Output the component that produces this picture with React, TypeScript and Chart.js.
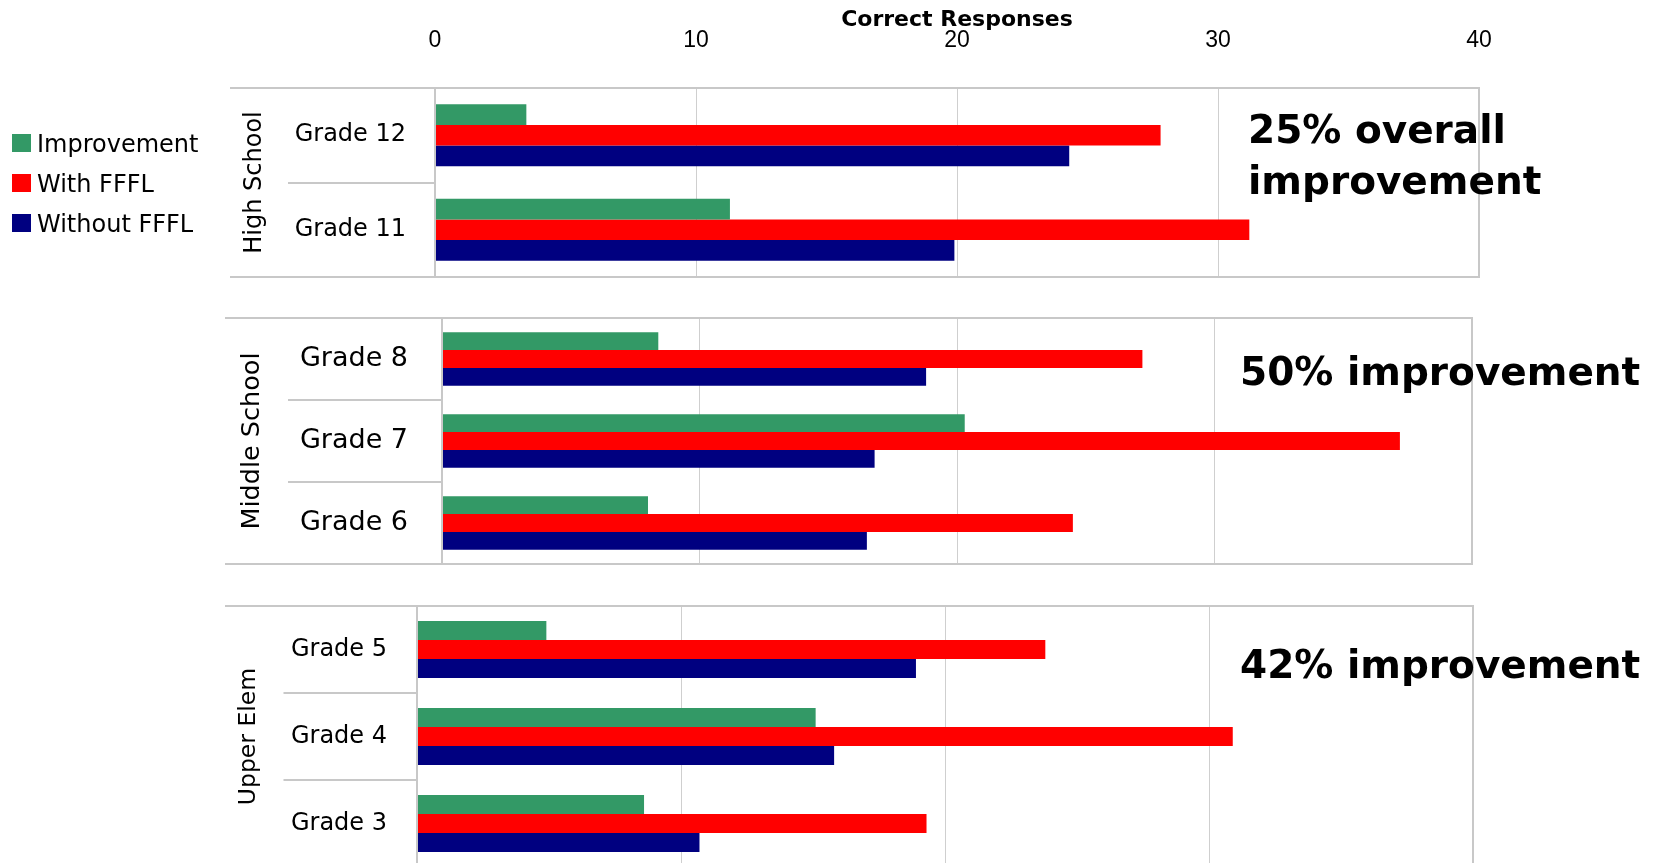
import React, { useEffect, useRef } from 'react';
import { Chart, registerables } from 'chart.js';

Chart.register(...registerables);

// ---------- data ----------
const seriesNames = ['Improvement', 'With FFFL', 'Without FFFL'];
const seriesColors = ['#339966', '#ff0000', '#000080'];

const hsGrades = ['Grade 12', 'Grade 11'];
const hsImprovement = [3.5, 11.3];
const hsWith = [27.8, 31.2];
const hsWithout = [24.3, 19.9];

const msGrades = ['Grade 8', 'Grade 7', 'Grade 6'];
const msImprovement = [8.4, 20.3, 8.0];
const msWith = [27.2, 37.2, 24.5];
const msWithout = [18.8, 16.8, 16.5];

const ueGrades = ['Grade 5', 'Grade 4', 'Grade 3'];
const ueImprovement = [4.9, 15.1, 8.6];
const ueWith = [23.8, 30.9, 19.3];
const ueWithout = [18.9, 15.8, 10.7];

const groupNames = ['High School', 'Middle School', 'Upper Elem'];
const notes = [['25% overall', 'improvement'], ['50% improvement'], ['42% improvement']];
const axisTitle = 'Correct Responses';
const xMin = 0;
const xMax = 40;
const xStep = 10;

const panelData = [
  { labels: hsGrades, values: [hsImprovement, hsWith, hsWithout] },
  { labels: msGrades, values: [msImprovement, msWith, msWithout] },
  { labels: ueGrades, values: [ueImprovement, ueWith, ueWithout] },
];

// ---------- layout ----------
const W = 1667;
const H = 863;
const panels = [
  { top: 0, height: 300, boxLeft: 230, sepLeft: 288, plotLeft: 435, plotRight: 1479, areaTop: 88, areaBottom: 277, labelPad: 29, labelSize: 24, titleSize: 24, titleX: 254.3, noteX: 1248, noteBaselines: [143.3, 194], showTicks: true, legend: true },
  { top: 300, height: 290, boxLeft: 225, sepLeft: 288, plotLeft: 442, plotRight: 1472, areaTop: 18, areaBottom: 264, labelPad: 34, labelSize: 27, titleSize: 25.5, titleX: 252, noteX: 1240, noteBaselines: [85], showTicks: false, legend: false },
  { top: 590, height: 290, boxLeft: 225, sepLeft: 283.5, plotLeft: 417, plotRight: 1473, areaTop: 16, areaBottom: 277, labelPad: 30, labelSize: 24, titleSize: 23.5, titleX: 248.4, noteX: 1240, noteBaselines: [88.3], showTicks: false, legend: false },
];

const FONT = "'DejaVu Sans', sans-serif";
const BOX_COLOR = '#c8c8c8';

function decorPlugin(i: number) {
  const p = panels[i];
  return {
    id: 'decor' + i,
    afterDraw(chart: any) {
      const ctx = chart.ctx;
      const area = chart.chartArea;
      const y = chart.scales.y;
      ctx.save();
      // box top / bottom lines extending over category region
      ctx.strokeStyle = BOX_COLOR;
      ctx.lineWidth = 2;
      ctx.beginPath();
      ctx.moveTo(p.boxLeft, Math.round(area.top));
      ctx.lineTo(area.right + 1, Math.round(area.top));
      ctx.moveTo(p.boxLeft, Math.round(area.bottom));
      ctx.lineTo(area.right + 1, Math.round(area.bottom));
      ctx.stroke();
      // category separators
      const n = chart.data.labels.length;
      ctx.beginPath();
      for (let k = 1; k < n; k++) {
        const yb = Math.round((y.getPixelForValue(k - 1) + y.getPixelForValue(k)) / 2);
        ctx.moveTo(p.sepLeft, yb);
        ctx.lineTo(area.left, yb);
      }
      ctx.stroke();
      // annotation text
      ctx.fillStyle = '#000';
      ctx.font = `bold 39px ${FONT}`;
      ctx.textAlign = 'left';
      ctx.textBaseline = 'alphabetic';
      notes[i].forEach((line, k) => {
        ctx.fillText(line, p.noteX, p.noteBaselines[k]);
      });
      // legend
      if (p.legend) {
        const baselines = [152, 192, 232];
        ctx.font = `24px ${FONT}`;
        chart.data.datasets.forEach((ds: any, k: number) => {
          ctx.fillStyle = ds.backgroundColor;
          ctx.fillRect(12, baselines[k] - 18, 19, 18);
          ctx.fillStyle = '#000';
          ctx.fillText(ds.label, 37, baselines[k]);
        });
      }
      ctx.restore();
    },
  };
}

function makeConfig(i: number): any {
  const p = panels[i];
  const d = panelData[i];
  return {
    type: 'bar',
    data: {
      labels: d.labels,
      datasets: seriesNames.map((name, k) => ({
        label: name,
        data: d.values[k],
        backgroundColor: seriesColors[k],
        borderWidth: 0,
        barPercentage: 1,
        categoryPercentage: 0.655,
      })),
    },
    options: {
      indexAxis: 'y',
      responsive: false,
      animation: false,
      devicePixelRatio: 1,
      layout: {
        padding: {
          left: p.boxLeft,
          right: W - p.plotRight,
          top: p.showTicks ? 0 : p.areaTop,
          bottom: p.height - p.areaBottom,
        },
      },
      plugins: { legend: { display: false }, tooltip: { enabled: false } },
      scales: {
        x: {
          type: 'linear',
          position: 'top',
          min: xMin,
          max: xMax,
          ticks: {
            stepSize: xStep,
            display: p.showTicks,
            font: { family: "'Liberation Sans', Arial, sans-serif", size: 23 },
            color: '#000',
            padding: 34,
          },
          grid: {
            color: (c: any) => (c.tick && (c.tick.value === xMin || c.tick.value === xMax) ? BOX_COLOR : '#cfcfcf'),
            lineWidth: (c: any) => (c.tick && (c.tick.value === xMin || c.tick.value === xMax) ? 2 : 1),
            drawTicks: false,
          },
          border: { display: false },
          title: {
            display: p.showTicks,
            text: axisTitle,
            font: { family: FONT, size: 22, weight: 'bold' },
            color: '#000',
            padding: { top: 7.5, bottom: 0 },
          },
          afterFit: (axis: any) => {
            axis.height = p.showTicks ? p.areaTop : 0;
            axis.paddingLeft = 0;
            axis.paddingRight = 0;
          },
        },
        y: {
          type: 'category',
          position: 'left',
          grid: { display: false, drawTicks: false },
          border: { display: false },
          ticks: {
            font: { family: FONT, size: p.labelSize },
            color: '#000',
            padding: p.labelPad,
            crossAlign: 'near',
          },
          title: {
            display: true,
            text: groupNames[i],
            font: { family: FONT, size: p.titleSize },
            color: '#000',
            padding: { top: p.titleX - p.boxLeft - 0.6 * p.titleSize, bottom: 0 },
          },
          afterFit: (axis: any) => {
            axis.width = p.plotLeft - p.boxLeft;
            axis.paddingTop = 0;
            axis.paddingBottom = 0;
          },
        },
      },
    },
    plugins: [decorPlugin(i)],
  };
}

function Panel({ index }: { index: number }) {
  const ref = useRef<HTMLCanvasElement | null>(null);
  const p = panels[index];
  useEffect(() => {
    if (!ref.current) return;
    const chart = new Chart(ref.current, makeConfig(index));
    return () => chart.destroy();
  }, [index]);
  return (
    <canvas
      ref={ref}
      width={W}
      height={p.height}
      style={{ position: 'absolute', left: 0, top: p.top, width: W, height: p.height, display: 'block' }}
    />
  );
}

export default function App() {
  return (
    <div style={{ position: 'absolute', left: 0, top: 0, width: W, height: H, overflow: 'hidden', background: '#fff' }}>
      {panels.map((_, i) => (
        <Panel key={i} index={i} />
      ))}
    </div>
  );
}
